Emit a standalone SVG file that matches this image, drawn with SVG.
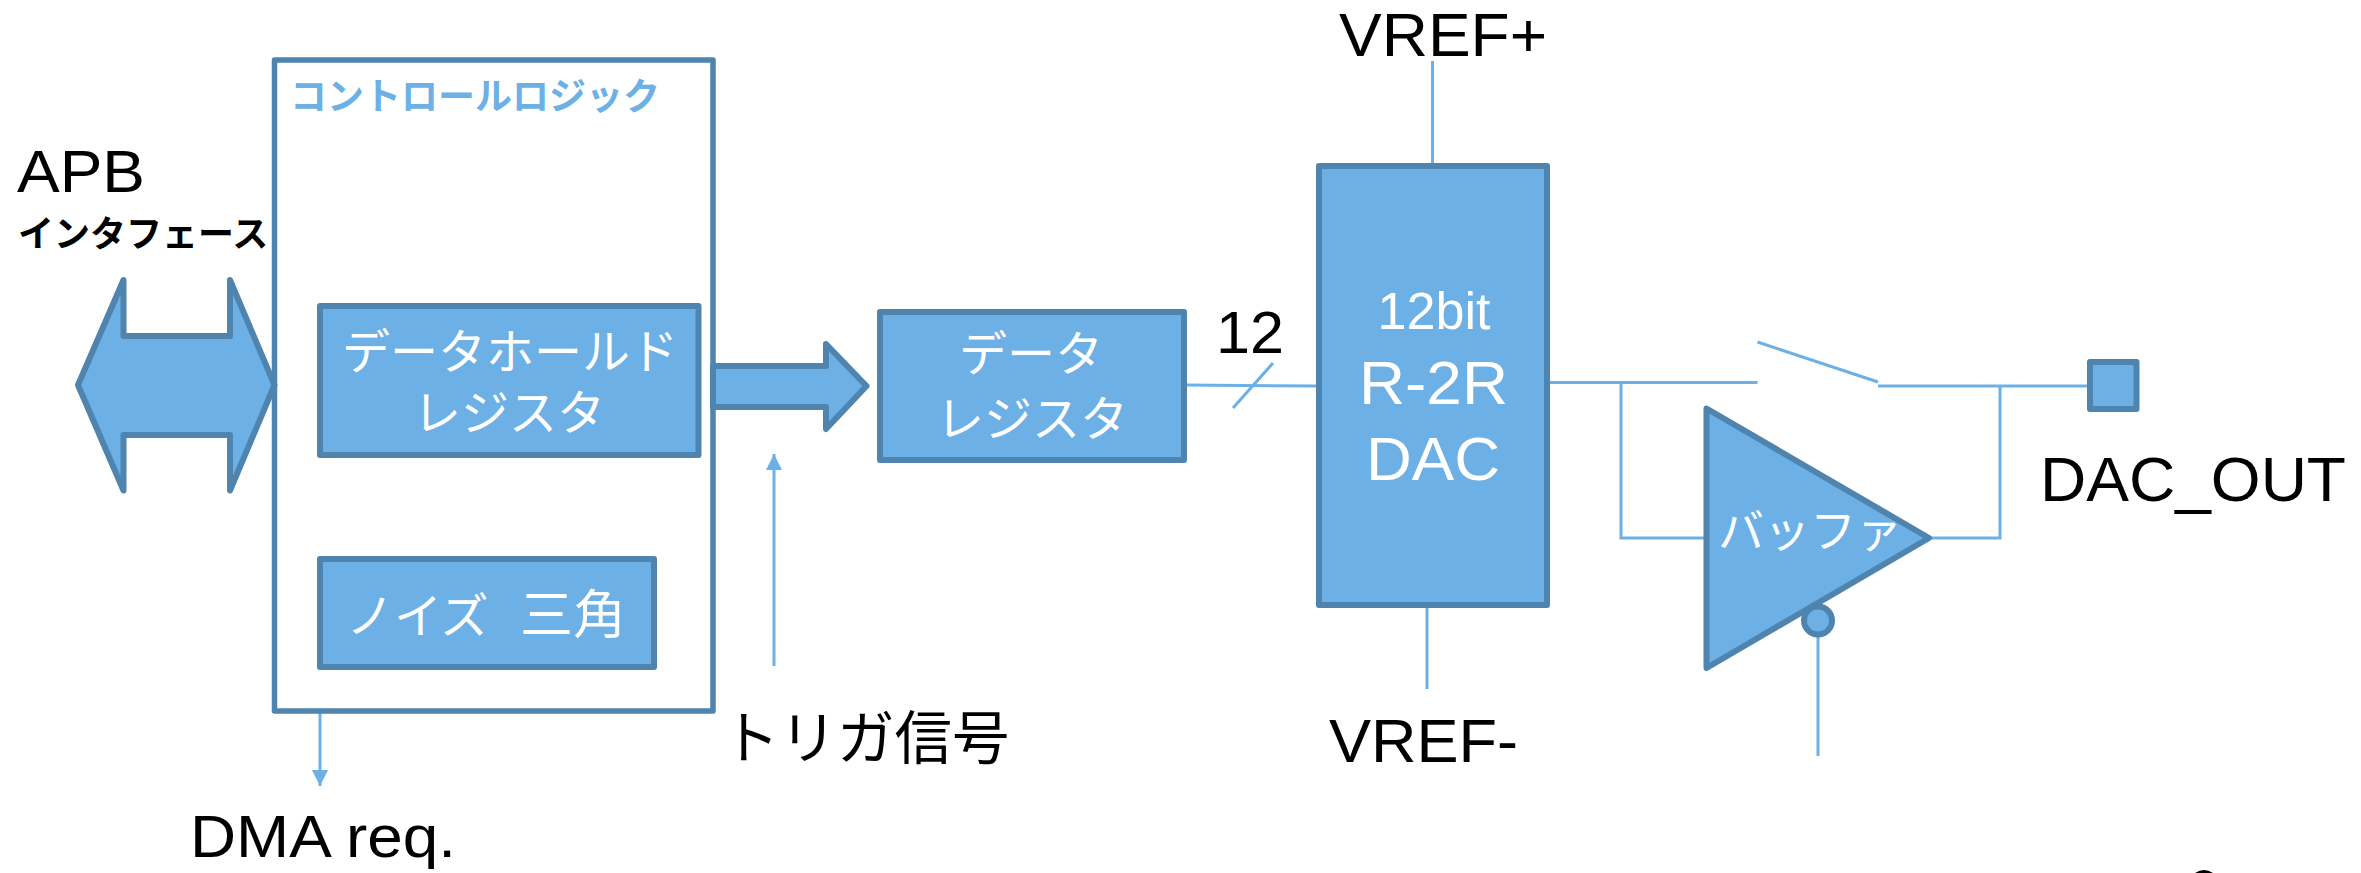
<svg xmlns="http://www.w3.org/2000/svg" width="2361" height="873" viewBox="0 0 2361 873">
<style>
.b{fill:#6CB0E6;stroke:#4E84AE;stroke-width:6;stroke-linejoin:round}
.l{fill:none;stroke:#6CB0E6;stroke-width:3}
text{font-family:"Liberation Sans","Noto Sans CJK JP",sans-serif;fill:#000}
.w{fill:#fff;text-anchor:middle}
.j{font-family:"Noto Sans CJK JP","Liberation Sans",sans-serif}
</style>
<defs><marker id="a" markerUnits="userSpaceOnUse" markerWidth="16" markerHeight="16" refX="16" refY="8" orient="auto"><path d="M0 0L16 8L0 16Z" fill="#6CB0E6"/></marker></defs>
<rect width="2361" height="873" fill="#fff"/>
<g id="connectors">
<path class="l" d="M1184 385L1317 386"/>
<path class="l" d="M1233 408L1273 363"/>
<path class="l" d="M1432.500 61V166"/>
<path class="l" d="M1427 585V689"/>
<path class="l" d="M1547 382.500H1757.500"/>
<path class="l" d="M1757.500 342L1878 382"/>
<path class="l" d="M1878 386H2089"/>
<path class="l" d="M1621 383V538H1706"/>
<path class="l" d="M1929 538H2000V386"/>
<path class="l" d="M1818 636V756"/>
<path class="l" marker-end="url(#a)" d="M320 711V786"/>
<path class="l" marker-end="url(#a)" d="M774 666V454"/>
</g>
<g id="control"><rect x="274.500" y="60" width="438.500" height="651" fill="#fff" stroke="#4E84AE" stroke-width="5.500" stroke-linejoin="round"/>
<text x="290" y="110" class="j" font-size="37" font-weight="700" style="fill:#6CB0E6">コントロールロジック</text></g>
<g id="apb"><path class="b" d="M78 385L123.500 280V336H230V280L274.500 385L230 490.500V435H123.500V490.500Z"/></g>
<g id="hold"><rect class="b" x="320" y="306" width="378.500" height="149"/>
<text class="w j" font-size="48"><tspan x="510" y="369">データホールド</tspan><tspan x="509" y="430">レジスタ</tspan></text></g>
<g id="noise"><rect class="b" x="320" y="559" width="334" height="108"/>
<text class="j" font-size="48" style="fill:#fff"><tspan x="346" y="633">ノイズ</tspan><tspan x="520" y="634" font-size="53">三角</tspan></text></g>
<g id="bus"><path class="b" d="M713 366H826V344L866.500 386L826 429V407H713Z"/></g>
<g id="datareg"><rect class="b" x="880" y="312" width="304" height="148"/>
<text class="w j" font-size="48"><tspan x="1031" y="371">データ</tspan><tspan x="1032" y="436">レジスタ</tspan></text></g>
<g id="dac"><rect class="b" x="1319" y="166" width="228" height="439"/>
<text class="w" x="1434" y="328.500" font-size="51" textLength="113" lengthAdjust="spacingAndGlyphs">12bit</text>
<text class="w" x="1433.500" y="403.500" font-size="62" textLength="149" lengthAdjust="spacingAndGlyphs">R-2R</text>
<text class="w" x="1433" y="480" font-size="62" textLength="134" lengthAdjust="spacingAndGlyphs">DAC</text></g>
<g id="buffer"><path class="b" d="M1706.500 408.500L1929 538L1706.500 668Z"/>
<text class="j" x="1718" y="547" font-size="46" style="fill:#fff">バッファ</text></g>
<g id="enable"><circle class="b" cx="1818" cy="620.500" r="14"/></g>
<g id="out"><rect class="b" x="2090" y="362" width="46.500" height="47"/></g>
<g id="labels">
<text x="17" y="192" font-size="60" textLength="128" lengthAdjust="spacingAndGlyphs">APB</text>
<text x="18" y="247" class="j" font-size="36" font-weight="700">インタフェース</text>
<text x="190" y="857" font-size="60" textLength="266" lengthAdjust="spacingAndGlyphs">DMA req.</text>
<text x="722" y="759" class="j" font-size="57.500">トリガ信号</text>
<text x="1216" y="352.500" font-size="60" textLength="68" lengthAdjust="spacingAndGlyphs">12</text>
<text x="1339" y="55.500" font-size="62" textLength="208" lengthAdjust="spacingAndGlyphs">VREF+</text>
<text x="1329" y="761.500" font-size="62" textLength="189" lengthAdjust="spacingAndGlyphs">VREF-</text>
<text x="2040" y="501" font-size="63" textLength="306" lengthAdjust="spacingAndGlyphs">DAC_OUT</text>
</g>
<path d="M2195 873Q2204 867 2213 873Z" fill="#000"/>
</svg>
